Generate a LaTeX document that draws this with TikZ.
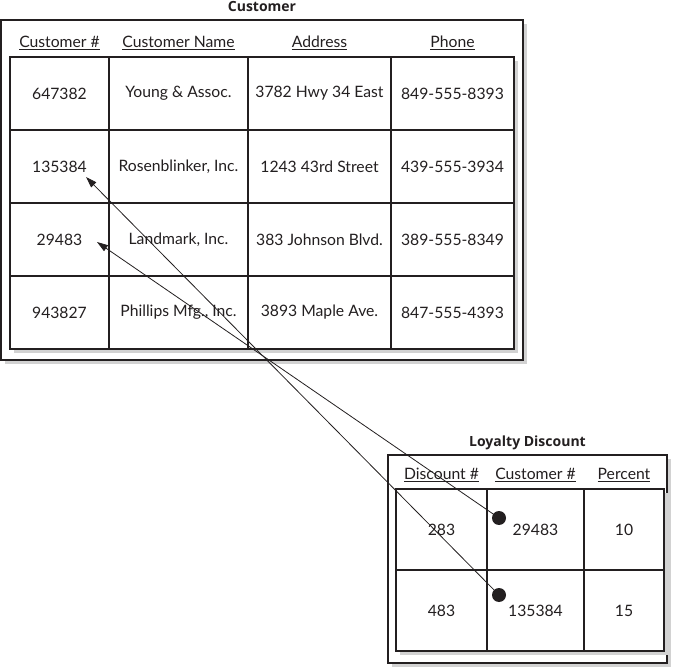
\documentclass[tikz,border=0pt]{standalone}
\usepackage{fontspec}
\setmainfont{Lato}
\newfontfamily\titlefont{Open Sans}
\usetikzlibrary{arrows.meta,positioning,shadows}
\definecolor{tbink}{HTML}{231F20}
\definecolor{tbshade}{HTML}{D2D2D2}

\begin{document}
\begin{tikzpicture}[
        x=1pt, y=-1pt,
        font=\fontsize{15.7}{18}\selectfont,
        node distance=0pt,
        shade/.style={drop shadow={shadow xshift=4pt, shadow yshift=-4pt,
                      fill=tbshade, opacity=1}},
        frame/.style={draw=tbink, line width=1.1pt, fill=white, shade},
        cell/.style={draw=tbink, line width=1.1pt, fill=white, shade,
                     outer sep=0pt, inner sep=0pt, align=center, text=tbink},
        crow/.style={cell, minimum height=73pt},
        lrow/.style={cell, minimum height=81pt},
        hdr/.style={inner sep=0pt, text=tbink},
        ttl/.style={font=\titlefont\bfseries\fontsize{14}{17}\selectfont,
                    inner sep=0pt, text depth=0pt, text=tbink},
        dot/.style={circle, fill=tbink, inner sep=0pt, minimum size=14pt},
        arr/.style={-{Triangle[length=11pt,width=7pt]}, tbink, line width=0.8pt}
    ]
        \useasboundingbox (0,0) rectangle (678,668);

        % Customer table
        \node[frame, minimum width=522pt, minimum height=340pt] (custbox) at (262,190) {};
        \node[ttl, above=8pt of custbox] {Customer};

        \node[crow, minimum width=99pt] (c11) at (59.5,93.5) {647382};
        \node[crow, minimum width=139pt, right=of c11] (c12) {Young \& Assoc.};
        \node[crow, minimum width=143pt, right=of c12] (c13) {3782 Hwy 34 East};
        \node[crow, minimum width=123pt, right=of c13] (c14) {849-555-8393};
        \node[crow, minimum width=99pt, below=of c11] (c21) {135384};
        \node[crow, minimum width=139pt, right=of c21] (c22) {Rosenblinker, Inc.};
        \node[crow, minimum width=143pt, right=of c22] (c23) {1243 43rd Street};
        \node[crow, minimum width=123pt, right=of c23] (c24) {439-555-3934};
        \node[crow, minimum width=99pt, below=of c21] (c31) {29483};
        \node[crow, minimum width=139pt, right=of c31] (c32) {Landmark, Inc.};
        \node[crow, minimum width=143pt, right=of c32] (c33) {383 Johnson Blvd.};
        \node[crow, minimum width=123pt, right=of c33] (c34) {389-555-8349};
        \node[crow, minimum width=99pt, below=of c31] (c41) {943827};
        \node[crow, minimum width=139pt, right=of c41] (c42) {Phillips Mfg., Inc.};
        \node[crow, minimum width=143pt, right=of c42] (c43) {3893 Maple Ave.};
        \node[crow, minimum width=123pt, right=of c43] (c44) {847-555-4393};

        \node[hdr, above=7pt of c11] {\underline{Customer \#}};
        \node[hdr, above=7pt of c12] {\underline{Customer Name}};
        \node[hdr, above=7pt of c13] {\underline{Address}};
        \node[hdr, above=7pt of c14] {\underline{Phone}};

        % Loyalty Discount table
        \node[frame, minimum width=279pt, minimum height=208pt] (loybox) at (527.5,559) {};
        \node[ttl, above=8pt of loybox] {Loyalty Discount};

        \node[lrow, minimum width=91pt] (l11) at (441.5,529.5) {283};
        \node[lrow, minimum width=97pt, right=of l11] (l12) {29483};
        \node[lrow, minimum width=80pt, right=of l12] (l13) {10};
        \node[lrow, minimum width=91pt, below=of l11] (l21) {483};
        \node[lrow, minimum width=97pt, right=of l21] (l22) {135384};
        \node[lrow, minimum width=80pt, right=of l22] (l23) {15};

        \node[hdr, above=7pt of l11] {\underline{Discount \#}};
        \node[hdr, above=7pt of l12] {\underline{Customer \#}};
        \node[hdr, above=7pt of l13] {\underline{Percent}};

        % foreign keys
        \node[dot] (fk1) at (499,518) {};
        \node[dot] (fk2) at (499,595) {};

        \draw[arr] (fk1.center) -- ([shift={(37.5pt,-2.5pt)}]c31.center);
        \draw[arr] (fk2.center) -- ([shift={(26.5pt,-10.5pt)}]c21.center);
    \end{tikzpicture}
\end{document}
